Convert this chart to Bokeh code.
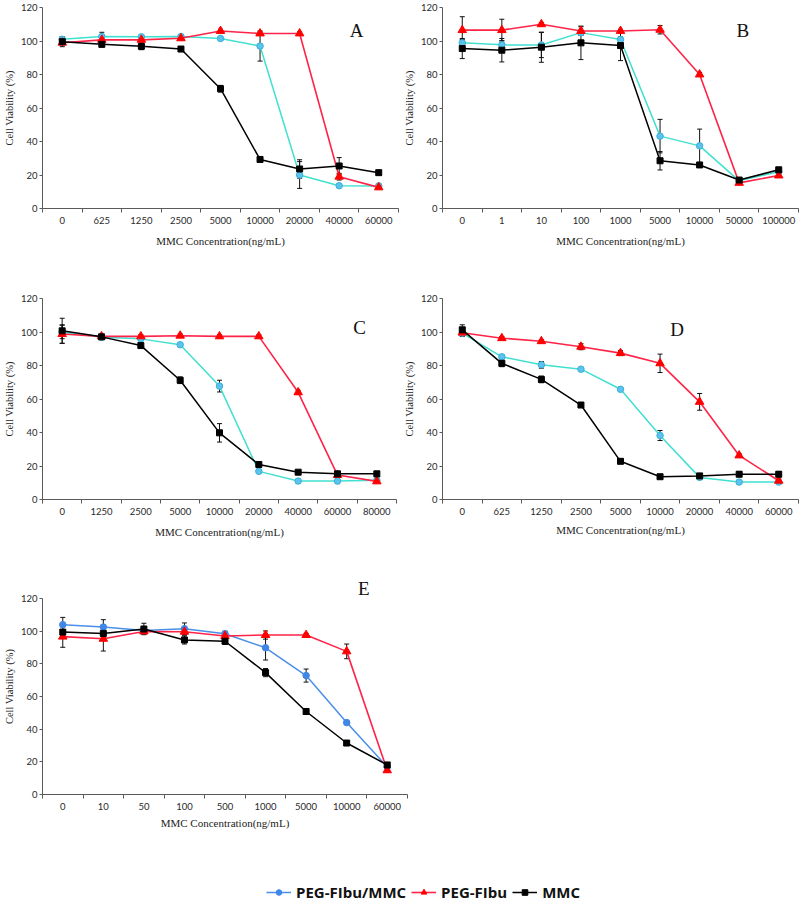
from bokeh.plotting import figure
from bokeh.models import (Range1d, FixedTicker, Whisker, TeeHead, ColumnDataSource,
                          Label, Legend, LegendItem)
from bokeh.layouts import column, row
from bokeh.embed import file_html
from bokeh.resources import INLINE

# ---------------- data ----------------
SERIES_NAMES = ["PEG-FIbu/MMC", "PEG-FIbu", "MMC"]
Y_TICKS = [0, 20, 40, 60, 80, 100, 120]
X_TITLE = "MMC Concentration(ng/mL)"
Y_TITLE = "Cell Viability (%)"

A_labels = ["0", "625", "1250", "2500", "5000", "10000", "20000", "40000", "60000"]
A_conj = [101.0, 102.7, 102.5, 102.7, 101.5, 97.0, 20.0, 13.6, 13.5]
A_conj_err = [1.5, 2.5, 1.0, 1.0, 1.0, 9.0, 8.0, 1.0, 1.0]
A_ibu = [99.0, 100.7, 100.7, 101.6, 106.0, 104.5, 104.5, 19.0, 12.6]
A_ibu_err = [1.0, 1.0, 1.0, 1.0, 1.0, 1.0, 1.0, 2.0, 1.0]
A_mmc = [99.6, 98.0, 96.8, 95.2, 71.5, 29.3, 23.6, 25.4, 21.4]
A_mmc_err = [3.0, 1.5, 2.0, 1.0, 2.0, 1.0, 5.5, 5.0, 1.0]

B_labels = ["0", "1", "10", "100", "1000", "5000", "10000", "50000", "100000"]
B_conj = [98.9, 97.7, 97.6, 105.0, 100.9, 43.2, 37.4, 16.5, 22.0]
B_conj_err = [2.0, 2.5, 7.5, 1.5, 1.5, 10.0, 10.0, 1.0, 1.0]
B_ibu = [106.5, 106.5, 110.0, 106.0, 106.0, 106.7, 80.0, 15.3, 19.7]
B_ibu_err = [8.0, 6.5, 1.0, 2.5, 1.0, 2.5, 1.2, 1.0, 1.0]
B_mmc = [95.5, 94.5, 96.3, 98.9, 97.3, 28.5, 26.0, 17.0, 23.1]
B_mmc_err = [6.0, 7.0, 9.0, 10.0, 9.0, 5.5, 1.0, 1.0, 1.0]

C_labels = ["0", "1250", "2500", "5000", "10000", "20000", "40000", "60000", "80000"]
C_conj = [100.0, 96.8, 95.9, 92.4, 67.7, 16.8, 11.0, 11.0, 11.5]
C_conj_err = [4.0, 1.0, 1.0, 1.0, 3.5, 1.0, 1.0, 1.5, 1.0]
C_ibu = [98.8, 97.4, 97.4, 97.8, 97.4, 97.4, 64.0, 14.6, 10.8]
C_ibu_err = [5.5, 1.0, 1.0, 1.0, 1.0, 1.0, 1.2, 1.0, 1.0]
C_mmc = [100.7, 97.1, 91.9, 71.2, 39.8, 20.9, 16.3, 15.3, 15.3]
C_mmc_err = [7.5, 1.0, 1.0, 2.0, 5.5, 1.0, 1.0, 1.5, 1.5]

D_labels = ["0", "625", "1250", "2500", "5000", "10000", "20000", "40000", "60000"]
D_conj = [99.3, 85.2, 80.4, 77.8, 65.8, 38.2, 13.2, 10.4, 10.4]
D_conj_err = [2.0, 1.0, 2.0, 1.0, 1.0, 3.0, 1.0, 1.0, 1.0]
D_ibu = [99.6, 96.3, 94.5, 91.2, 87.4, 81.3, 58.3, 26.3, 11.2]
D_ibu_err = [1.5, 1.0, 1.0, 1.8, 1.5, 5.5, 5.0, 1.0, 1.0]
D_mmc = [101.3, 81.3, 71.7, 56.4, 22.8, 13.6, 14.1, 15.1, 15.1]
D_mmc_err = [3.0, 2.0, 2.0, 1.0, 1.0, 1.0, 1.0, 1.5, 1.5]

E_labels = ["0", "10", "50", "100", "500", "1000", "5000", "10000", "60000"]
E_conj = [103.9, 102.5, 100.3, 101.5, 98.4, 89.8, 72.8, 44.0, 16.9]
E_conj_err = [4.5, 4.5, 2.0, 3.5, 1.5, 7.5, 4.0, 1.0, 1.0]
E_ibu = [96.6, 95.3, 99.8, 99.6, 97.0, 97.6, 97.6, 87.6, 14.8]
E_ibu_err = [6.5, 7.5, 1.5, 2.0, 1.0, 2.5, 1.0, 4.5, 1.0]
E_mmc = [99.4, 98.6, 101.3, 94.6, 93.8, 74.6, 50.8, 31.5, 18.1]
E_mmc_err = [1.0, 1.0, 3.5, 2.5, 2.0, 2.5, 1.5, 1.5, 1.0]

# ---------------- styles ----------------
CYAN_LINE, CYAN_FILL, CYAN_EDGE = "#40E0D0", "#5BC3EE", "#3BB0D6"
BLUE_LINE, BLUE_FILL = "#4A8FE7", "#3F86E6"
RED_LINE, RED_FILL = "#FF2347", "#FF0000"
BLACK = "#000000"
AXIS_COLOR = "#5a5a5a"
TICK_FONT = "Lato"
SERIF = "Liberation Serif"


def add_series(p, xs, conj, ibu, mmc, conj_colors):
    c_line, c_fill, c_edge = conj_colors
    l1 = p.line(xs, conj, line_color=c_line, line_width=1.5)
    s1 = p.scatter(xs, conj, marker="circle", size=6.5, fill_color=c_fill, line_color=c_edge, line_width=1)
    l2 = p.line(xs, ibu, line_color=RED_LINE, line_width=1.6)
    s2 = p.scatter(xs, ibu, marker="triangle", size=8.5, fill_color=RED_FILL, line_color=RED_FILL)
    l3 = p.line(xs, mmc, line_color=BLACK, line_width=1.5)
    s3 = p.scatter(xs, mmc, marker="square", size=6, fill_color=BLACK, line_color=BLACK)
    return [[l1, s1], [l2, s2], [l3, s3]]


def make_panel(letter, labels, series, width, height, borders, letter_pos,
               conj_colors, title_standoff, y_top=120):
    left, right, top, bottom = borders
    p = figure(width=width, height=height, output_backend="svg", toolbar_location=None,
               x_range=Range1d(-0.5, len(labels) - 0.5), y_range=Range1d(0, y_top),
               min_border_left=left, min_border_right=right,
               min_border_top=top, min_border_bottom=bottom)
    p.grid.visible = False
    p.outline_line_color = None
    p.background_fill_color = "white"
    p.border_fill_color = "white"

    xs = list(range(len(labels)))
    # x axis: labels at category centres, tick marks at category boundaries
    xa = p.xaxis[0]
    xa.ticker = FixedTicker(ticks=xs, minor_ticks=[i - 0.5 for i in range(len(labels) + 1)])
    xa.major_label_overrides = {i: lab for i, lab in enumerate(labels)}
    xa.major_tick_line_color = None
    xa.major_tick_out = 4
    xa.major_tick_in = 0
    xa.minor_tick_in = 0
    xa.minor_tick_out = 4
    xa.minor_tick_line_color = AXIS_COLOR
    xa.axis_line_color = AXIS_COLOR
    xa.major_label_standoff = 4
    xa.major_label_text_font = TICK_FONT
    xa.major_label_text_font_size = "9.5px"
    xa.major_label_text_color = "#2a2a2a"
    xa.axis_label = X_TITLE
    xa.axis_label_text_font = SERIF
    xa.axis_label_text_font_size = "11px"
    xa.axis_label_text_font_style = "normal"
    xa.axis_label_text_color = "#222222"
    xa.axis_label_standoff = title_standoff

    ya = p.yaxis[0]
    ya.ticker = FixedTicker(ticks=Y_TICKS)
    ya.bounds = (0, 120)
    ya.minor_tick_line_color = None
    ya.major_tick_in = 0
    ya.major_tick_out = 3
    ya.major_tick_line_color = AXIS_COLOR
    ya.axis_line_color = AXIS_COLOR
    ya.major_label_standoff = 2
    ya.major_label_text_font = TICK_FONT
    ya.major_label_text_font_size = "9.5px"
    ya.major_label_text_color = "#2a2a2a"
    ya.axis_label = Y_TITLE
    ya.axis_label_text_font = SERIF
    ya.axis_label_text_font_size = "10.5px"
    ya.axis_label_text_font_style = "normal"
    ya.axis_label_text_color = "#222222"
    ya.axis_label_standoff = 3

    conj, conj_err, ibu, ibu_err, mmc, mmc_err = series
    renderers = add_series(p, xs, conj, ibu, mmc, conj_colors)

    for vals, errs in ((conj, conj_err), (ibu, ibu_err), (mmc, mmc_err)):
        src = ColumnDataSource(dict(x=xs,
                                    upper=[v + e for v, e in zip(vals, errs)],
                                    lower=[v - e for v, e in zip(vals, errs)]))
        w = Whisker(base="x", upper="upper", lower="lower", source=src,
                    line_color="#111111", line_width=1,
                    upper_head=TeeHead(size=5, line_color="#111111", line_width=1),
                    lower_head=TeeHead(size=5, line_color="#111111", line_width=1))
        p.add_layout(w)

    lx, ly = letter_pos
    p.add_layout(Label(x=lx, y=ly, text=letter, text_font=SERIF, text_font_size="19px",
                       text_align="center", text_baseline="middle", text_color="#111111"))
    return p, renderers


cyan = (CYAN_LINE, CYAN_FILL, CYAN_EDGE)
blue = (BLUE_LINE, BLUE_FILL, BLUE_FILL)

pA, _ = make_panel("A", A_labels, (A_conj, A_conj_err, A_ibu, A_ibu_err, A_mmc, A_mmc_err),
                   400, 280, (36, 2, 5, 72), (7.44, 106.4), cyan, 8)
pB, _ = make_panel("B", B_labels, (B_conj, B_conj_err, B_ibu, B_ibu_err, B_mmc, B_mmc_err),
                   403, 280, (39, 5, 7, 72), (7.09, 106.3), cyan, 8)
pC, _ = make_panel("C", C_labels, (C_conj, C_conj_err, C_ibu, C_ibu_err, C_mmc, C_mmc_err),
                   400, 280, (39, 4, 18, 61), (7.56, 102.7), cyan, 8)
pD, _ = make_panel("D", D_labels, (D_conj, D_conj_err, D_ibu, D_ibu_err, D_mmc, D_mmc_err),
                   403, 280, (42, 5, 18, 58), (5.43, 101.2), cyan, 6)
# panel E: frame extended a little above 120 so that the letter sits inside it
pE, _ = make_panel("E", E_labels, (E_conj, E_conj_err, E_ibu, E_ibu_err, E_mmc, E_mmc_err),
                   420, 290, (39, 13, 18, 56), (7.42, 126.0), blue, 4, y_top=132.2)

# legend strip (series drawn far outside its visible range; only the legend shows)
pL = figure(width=803, height=53, output_backend="svg", toolbar_location=None,
            x_range=Range1d(-100, -99), y_range=Range1d(-100, -99),
            x_axis_type=None, y_axis_type=None,
            min_border_left=0, min_border_right=0, min_border_top=0, min_border_bottom=0)
pL.grid.visible = False
pL.outline_line_color = None
rL = add_series(pL, list(range(len(E_labels))), E_conj, E_ibu, E_mmc, blue)
legend = Legend(items=[LegendItem(label=name, renderers=r) for name, r in zip(SERIES_NAMES, rL)],
                location=(224, 1), orientation="horizontal",
                label_text_font="Open Sans", label_text_font_style="bold", label_text_font_size="15px",
                label_text_color="#111111", label_height=16,
                glyph_width=25, glyph_height=14, label_standoff=5, spacing=5,
                padding=0, margin=0, border_line_color=None, background_fill_alpha=0)
pL.add_layout(legend)

layout = column(row(pA, pB), row(pC, pD), pE, pL)

with open("out.html", "w") as f:
    f.write(file_html(layout, INLINE))
